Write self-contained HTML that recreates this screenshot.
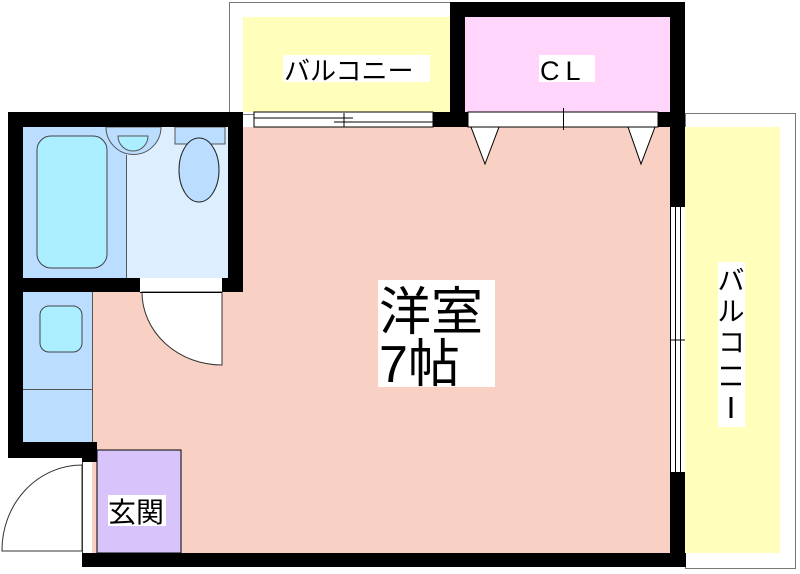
<!DOCTYPE html>
<html><head><meta charset="utf-8"><style>
html,body{margin:0;padding:0;background:#fff;}
svg{display:block;}
text{font-family:"Liberation Sans","Noto Sans CJK JP",sans-serif;fill:#000;}
</style></head><body>
<svg width="800" height="574" viewBox="0 0 800 574" xmlns="http://www.w3.org/2000/svg">
<rect width="800" height="574" fill="#fff"/>
<!-- top balcony -->
<rect x="229.5" y="2.5" width="226" height="112" fill="#fff" stroke="#777" stroke-width="1"/>
<rect x="243" y="17" width="208" height="95" fill="#ffffbb"/>
<!-- right balcony -->
<rect x="685.5" y="113.5" width="110" height="455" fill="#fff" stroke="#777" stroke-width="1"/>
<rect x="685" y="127" width="95" height="426" fill="#ffffbb"/>
<!-- CL -->
<rect x="465" y="17" width="205" height="95" fill="#ffd5fb"/>
<!-- main room -->
<rect x="243" y="127" width="427" height="426" fill="#f8d0c4"/>
<rect x="92" y="292" width="160" height="261" fill="#f8d0c4"/>
<!-- bath -->
<rect x="23" y="127" width="205" height="151" fill="#bbddff"/>
<rect x="126" y="127" width="102" height="151" fill="#ddeeff"/>
<line x1="126.5" y1="155" x2="126.5" y2="278" stroke="#555" stroke-width="1"/>
<rect x="37" y="136" width="70" height="132" rx="14" fill="#aaeeff" stroke="#444" stroke-width="1"/>
<path d="M106 127 A27 27 0 0 0 161 127 Z" fill="#bbddff" stroke="#555" stroke-width="1"/>
<path d="M118 136 A15 15 0 0 0 148 136 Z" fill="#aaeeff" stroke="#555" stroke-width="1"/>
<rect x="175" y="127" width="50" height="17" fill="#bbddff" stroke="#555" stroke-width="1"/>
<ellipse cx="199" cy="170" rx="20" ry="32" fill="#bbddff" stroke="#222" stroke-width="1"/>
<!-- washer area -->
<rect x="23" y="292" width="69" height="150" fill="#bbddff"/>
<line x1="92.5" y1="292" x2="92.5" y2="450" stroke="#555" stroke-width="1"/>
<line x1="23" y1="389.5" x2="92" y2="389.5" stroke="#555" stroke-width="1"/>
<rect x="40" y="306" width="42" height="46" rx="9" fill="#aaeeff" stroke="#444" stroke-width="1"/>
<!-- genkan -->
<rect x="97" y="450" width="84" height="103" fill="#d9c3fb" stroke="#000" stroke-width="1"/>
<!-- walls -->
<g fill="#000">
<rect x="8" y="112" width="235" height="15"/>
<rect x="8" y="112" width="15" height="346"/>
<rect x="228" y="112" width="15" height="180"/>
<rect x="8" y="278" width="132" height="14"/>
<rect x="222" y="278" width="21" height="14"/>
<rect x="8" y="442" width="89" height="16"/>
<rect x="82" y="442" width="15" height="20"/>
<rect x="82" y="553" width="604" height="14"/>
<rect x="433" y="112" width="35" height="15"/>
<rect x="450" y="2" width="235" height="15"/>
<rect x="450" y="2" width="15" height="125"/>
<rect x="670" y="2" width="15" height="205"/>
<rect x="658" y="112" width="27" height="15"/>
<rect x="670" y="472" width="15" height="95"/>
</g>
<!-- top window -->
<rect x="254" y="112" width="179" height="15" fill="#fff" stroke="#000" stroke-width="1"/>
<line x1="254" y1="118" x2="353" y2="118" stroke="#000" stroke-width="1"/>
<line x1="334" y1="122" x2="433" y2="122" stroke="#000" stroke-width="1"/>
<line x1="344" y1="113" x2="344" y2="127" stroke="#000" stroke-width="1"/>
<!-- CL door strip -->
<rect x="468" y="112" width="190" height="15" fill="#fff" stroke="#000" stroke-width="1"/>
<line x1="563.5" y1="108" x2="563.5" y2="130" stroke="#000" stroke-width="1"/>
<polygon points="471,127 499,127 485,164" fill="#fff" stroke="#000" stroke-width="1"/>
<polygon points="628,127 655,127 641,164" fill="#fff" stroke="#000" stroke-width="1"/>
<!-- right window -->
<rect x="670" y="207" width="15" height="265" fill="#fff"/>
<line x1="670.5" y1="207" x2="670.5" y2="472" stroke="#000" stroke-width="1"/>
<line x1="675.5" y1="207" x2="675.5" y2="472" stroke="#000" stroke-width="1"/>
<line x1="680.5" y1="207" x2="680.5" y2="472" stroke="#000" stroke-width="1"/>
<line x1="670" y1="340" x2="685" y2="340" stroke="#000" stroke-width="1"/>
<!-- bath door -->
<rect x="140" y="278" width="82" height="14" fill="#fff"/>
<path d="M142 292 A80 73 0 0 0 222 365 L222 292 Z" fill="#fff" stroke="#333" stroke-width="1"/>
<line x1="140" y1="292.5" x2="222" y2="292.5" stroke="#000" stroke-width="1"/>
<!-- entrance door -->
<path d="M82 465 A80 85 0 0 0 2 551 L82 551 Z" fill="#fff" stroke="#333" stroke-width="1"/>
<line x1="82.5" y1="462" x2="82.5" y2="553" stroke="#333" stroke-width="1"/>
<!-- labels -->
<rect x="283" y="55" width="147" height="27" fill="#fff"/>
<text x="284" y="80" font-size="26">バルコニー</text>
<rect x="539" y="55" width="56" height="27" fill="#fff"/>
<text x="540" y="80" font-size="27" letter-spacing="6">CL</text>
<rect x="378" y="280" width="117" height="107" fill="#fff"/>
<text x="379" y="330" font-size="52">洋室</text>
<text x="379" y="382" font-size="52">7帖</text>
<rect x="108" y="495" width="58" height="31" fill="#fff"/>
<text x="108" y="522" font-size="28">玄関</text>
<rect x="718" y="262" width="27" height="165" fill="#fff"/>
<text x="731" y="290" font-size="27" text-anchor="middle">バ</text>
<text x="731" y="321" font-size="27" text-anchor="middle">ル</text>
<text x="731.5" y="352" font-size="27" text-anchor="middle">コ</text>
<line x1="721" y1="368" x2="741" y2="368" stroke="#000" stroke-width="2.5"/>
<line x1="721" y1="384" x2="741" y2="384" stroke="#000" stroke-width="2.5"/>
<line x1="731" y1="397" x2="731" y2="418" stroke="#000" stroke-width="3"/>
</svg>
</body></html>
